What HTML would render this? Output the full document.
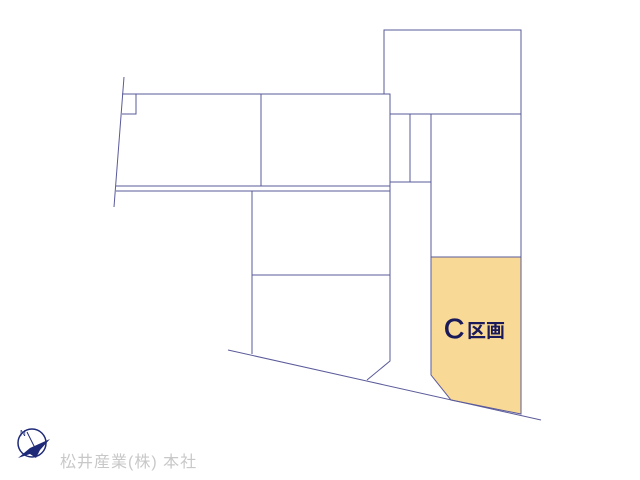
<!DOCTYPE html>
<html><head><meta charset="utf-8"><style>
body{margin:0;background:#fff;width:640px;height:480px;overflow:hidden}
</style></head><body>
<svg width="640" height="480" xmlns="http://www.w3.org/2000/svg" style="position:absolute;left:0;top:0">
<g fill="none" stroke="#5a5a9a" stroke-width="1">
<polygon points="431,257 521,257 521,414 451,400 431,375" fill="#f9d996" stroke="#5a5a9a"/>
<line x1="124" y1="77" x2="114" y2="207"/>
<polyline points="122,94 390,94 390,182"/>
<polyline points="122,114 136,114 136,94"/>
<line x1="261" y1="94" x2="261" y2="186"/>
<line x1="116" y1="186" x2="390" y2="186"/>
<line x1="116" y1="191" x2="390" y2="191"/>
<polyline points="384,94 384,30 521,30 521,414"/>
<line x1="390" y1="114" x2="521" y2="114"/>
<line x1="410" y1="114" x2="410" y2="182"/>
<line x1="390" y1="182" x2="431" y2="182"/>
<line x1="431" y1="114" x2="431" y2="257"/>
<line x1="252" y1="191" x2="252" y2="354"/>
<polyline points="390,182 390,361 367,380"/>
<line x1="252" y1="275" x2="390" y2="275"/>
<line x1="228" y1="350" x2="541" y2="420"/>
</g>
<text x="444" y="338" font-family="Liberation Sans, sans-serif" font-size="28" fill="#1a1a5a" stroke="#1a1a5a" stroke-width="0.8">C</text>
<text x="467" y="337" font-family="Liberation Sans, 'Noto Sans CJK JP', sans-serif" font-size="19" font-weight="bold" fill="#1a1a5a">区画</text>
<circle cx="32" cy="443" r="14" fill="none" stroke="#1e2a78" stroke-width="1.5"/>
<text x="20" y="436" font-family="Liberation Sans, sans-serif" font-size="8" fill="#1e2a78">N</text>
<path d="M18,458 L30,448 L50,439 L40,450 L36,458 L30,454 Z" fill="#1e2a78"/>
<line x1="27" y1="432" x2="36" y2="450" stroke="#1e2a78" stroke-width="1"/>
<text x="60" y="467" font-family="Liberation Sans, 'Noto Sans CJK JP', sans-serif" font-size="16" letter-spacing="1" fill="#c8c8c8">松井産業(株) 本社</text>
</svg>
</body></html>
